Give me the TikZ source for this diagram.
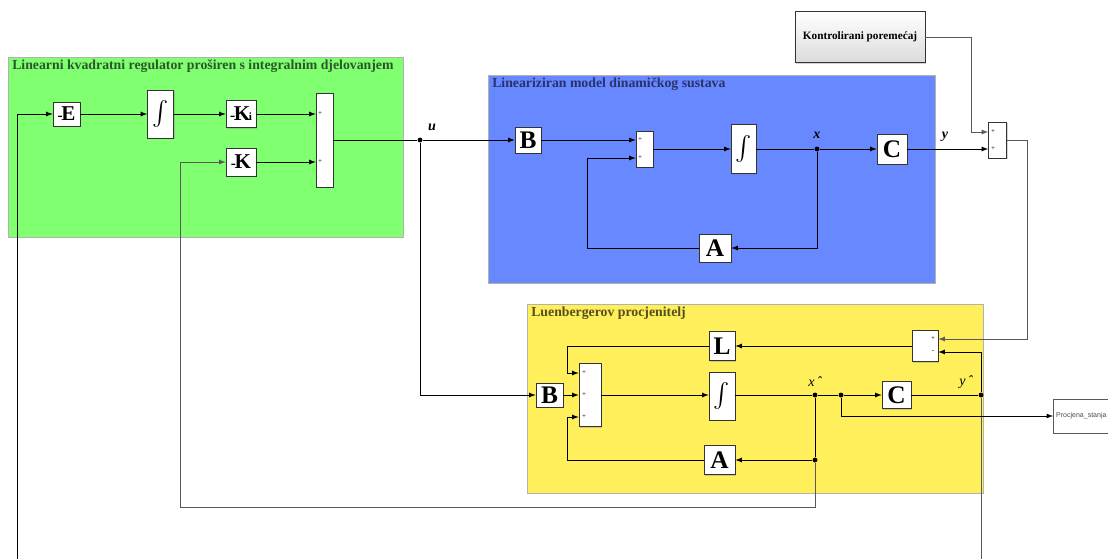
\documentclass[tikz,border=0pt]{standalone}
\usepackage{amsmath}
\usepackage{fontspec}
\setmainfont{Liberation Serif}
\setsansfont{Liberation Sans}
\usepackage{tikz}
\usetikzlibrary{shapes,arrows,shadows}
\definecolor{lqrgreen}{RGB}{128,255,112}
\definecolor{modelblue}{RGB}{104,136,255}
\definecolor{estyellow}{RGB}{255,239,90}
\definecolor{lqrtext}{RGB}{45,85,45}
\definecolor{modeltext}{RGB}{40,50,110}
\definecolor{esttext}{RGB}{85,78,30}
\tikzstyle{area} = [draw=gray!60, line width=0.5pt]
\tikzstyle{title} = [anchor=west, inner sep=0pt, font=\bfseries\fontsize{9.8}{10}\selectfont]
\tikzstyle{blk} = [draw=black!80, fill=white, inner sep=0pt, line width=0.5pt, drop shadow={shadow xshift=1pt, shadow yshift=-1pt, opacity=0.35}, font=\bfseries\fontsize{18}{18}\selectfont]
\tikzstyle{sumblk} = [blk]
\tikzstyle{pm} = [inner sep=0pt, font=\fontsize{5}{5}\selectfont]
\tikzstyle{dot} = [circle, fill, inner sep=0pt, minimum size=3.5pt]
\tikzstyle{sig} = [inner sep=0pt, font=\bfseries\itshape\fontsize{10}{10}\selectfont]
\tikzstyle{hsig} = [inner sep=0pt, font=\itshape\fontsize{10}{10}\selectfont]
\tikzstyle{line} = [draw, line width=0.6pt, -latex]
\tikzstyle{wire} = [draw, line width=0.6pt]
\tikzstyle{gline} = [draw=gray!70!black, line width=0.6pt, -latex]
\tikzstyle{gwire} = [draw=gray!70!black, line width=0.6pt]
\newcommand{\intsym}{{\fontsize{18}{18}\selectfont$\int$}}
\newcommand{\mgain}[1]{{\fontsize{11}{11}\selectfont -}\kern-1pt{\fontsize{15}{15}\selectfont #1}}

\begin{document}
\begin{tikzpicture}[x=0.025cm, y=-0.025cm]
	\clip (0,0) rectangle (1108,558);
	\fill [white] (0,0) rectangle (1108,558);

	% subsystem areas
	\path [area, fill=lqrgreen] (8,57) rectangle (403,237);
	\path [area, fill=modelblue] (488,75) rectangle (935,283);
	\path [area, fill=estyellow] (527,304) rectangle (983,493);
	\node [title, text=lqrtext] (lqrtitle) at (12,66) {Linearni kvadratni regulator proširen s integralnim djelovanjem};
	\node [title, text=modeltext] (modeltitle) at (492,84) {Lineariziran model dinamičkog sustava};
	\node [title, text=esttext] (esttitle) at (531,313) {Luenbergerov procjenitelj};

	% regulator
	\node [blk, minimum width=0.675cm, minimum height=0.6cm] (E) at (66.5,114) {\mgain{E}};
	\node [blk, minimum width=0.65cm, minimum height=1.2cm] (gint) at (160.5,114) {\intsym};
	\node [blk, minimum width=0.75cm, minimum height=0.675cm] (Ki) at (241,114) {\mgain{K\kern-1pt{\fontsize{8}{8}\selectfont i}}};
	\node [blk, minimum width=0.75cm, minimum height=0.7cm] (K) at (241,162) {\mgain{K}};
	\node [sumblk, minimum width=0.425cm, minimum height=2.35cm] (gsum) at (324.5,140) {};
	\foreach \n/\y in {a/114, b/162}
		\node [pm] (gsum\n) at (320,\y) {+};

	% model
	\node [blk, minimum width=0.65cm, minimum height=0.65cm] (B) at (528,140) {B};
	\node [sumblk, minimum width=0.425cm, minimum height=0.9cm] (bsum) at (644.5,149) {};
	\foreach \n/\y in {a/140, b/158}
		\node [pm] (bsum\n) at (640,\y) {+};
	\node [blk, minimum width=0.625cm, minimum height=1.225cm] (bint) at (743.5,149) {\intsym};
	\node [blk, minimum width=0.75cm, minimum height=0.75cm] (C) at (892,149) {C};
	\node [blk, minimum width=0.8cm, minimum height=0.7cm] (A) at (715,248) {A};

	% disturbance and output sum
	\node [blk, top color=white, bottom color=gray!28, minimum width=3.25cm, minimum height=1.275cm, font=\bfseries\fontsize{8}{9}\selectfont] (dist) at (860,37) {Kontrolirani poremećaj};
	\node [sumblk, minimum width=0.45cm, minimum height=0.9cm] (tsum) at (997.5,140) {};
	\foreach \n/\y in {a/132, b/149}
		\node [pm] (tsum\n) at (993,\y) {+};

	% estimator
	\node [sumblk, minimum width=0.65cm, minimum height=0.775cm] (ysum) at (925,346) {};
	\node [pm] (ysuma) at (933,339) {+};
	\node [pm] (ysumb) at (933,352) {-};
	\node [blk, minimum width=0.65cm, minimum height=0.725cm] (L) at (722,346) {L};
	\node [blk, minimum width=0.675cm, minimum height=0.6cm] (yB) at (549.5,395) {B};
	\node [sumblk, minimum width=0.55cm, minimum height=1.575cm] (ysum3) at (590,395) {};
	\foreach \n/\y in {a/373, b/395, c/417}
		\node [pm] (ysum3\n) at (584,\y) {+};
	\node [blk, minimum width=0.65cm, minimum height=1.2cm] (yint) at (722,396) {\intsym};
	\node [blk, minimum width=0.725cm, minimum height=0.675cm] (yC) at (896.5,395) {C};
	\node [blk, minimum width=0.775cm, minimum height=0.725cm] (yA) at (719.5,460) {A};
	\node [draw=gray!70!black, fill=white, inner sep=2pt, text width=2.1cm, minimum height=0.85cm, align=left, anchor=west, drop shadow={shadow xshift=1pt, shadow yshift=-1pt, opacity=0.35}, font=\sffamily\fontsize{5}{6}\selectfont, text=gray!60!black] (proc) at (1053,416) {Procjena\_stanja};

	% branch points and signal names
	\node [dot] (u) at (420,140) {};
	\node [dot] (x) at (817,149) {};
	\node [dot] (xh) at (815,395) {};
	\node [dot] (xha) at (815,460) {};
	\node [dot] (xhc) at (841,395) {};
	\node [dot] (yh) at (981,395) {};
	\node [sig] (ulab) at (432,127) {u};
	\node [sig] (xlab) at (817,135) {x};
	\node [sig] (ylab) at (945,137) {y};
	\node [hsig] (xhlab) at (815,382) {x\,ˆ};
	\node [hsig] (yhlab) at (966,382) {y\,ˆ};

	\coordinate (ebot) at (17,560);
	\coordinate (ybot) at (981,560);
	\coordinate (ab) at (587,158);
	\coordinate (dk) at (971,132);
	\coordinate (tr) at (1027,339);
	\coordinate (lc) at (567,373);
	\coordinate (la) at (567,417);
	\coordinate (ym) at (981,352);
	\coordinate (kl) at (180,507);

	% regulator wires
	\path [line] (ebot) |- (E);
	\path [line] (E) -- (gint);
	\path [line] (gint) -- (Ki);
	\path [line] (Ki) -- (Ki -| gsum.west);
	\path [line] (K) -- (K -| gsum.west);
	\path [wire] (gsum) -- (u);
	\path [line] (u) -- (B);
	\path [line] (u) |- (yB);

	% model wires
	\path [line] (B) -- (B -| bsum.west);
	\path [line] (bsum) -- (bint);
	\path [wire] (bint) -- (x);
	\path [line] (x) -- (C);
	\path [line] (x) |- (A);
	\path [line] (A) -| (ab) -- (ab -| bsum.west);
	\path [line] (C) -- (C -| tsum.west);
	\path [gline] (dist) -| (dk) -- (dk -| tsum.west);
	\path [gline] (tsum) -| (tr) -- (tr -| ysum.east);

	% estimator wires
	\path [line] (ysum) -- (L);
	\path [line] (L) -| (lc) -- (lc -| ysum3.west);
	\path [line] (yB) -- (ysum3);
	\path [line] (ysum3) -- (ysum3 -| yint.west);
	\path [wire] (ysum3 -| yint.east) -- (xh) -- (xhc);
	\path [line] (xhc) -- (yC);
	\path [wire] (yC) -- (yh);
	\path [line] (yh) -- (ym) -- (ym -| ysum.east);
	\path [gwire] (yh) -- (ybot);
	\path [line] (xh) -- (xha) -- (yA);
	\path [line] (yA) -| (la) -- (la -| ysum3.west);
	\path [line] (xhc) |- (proc);
	\path [gline] (xha) |- (kl) |- (K);
\end{tikzpicture}
\end{document}
